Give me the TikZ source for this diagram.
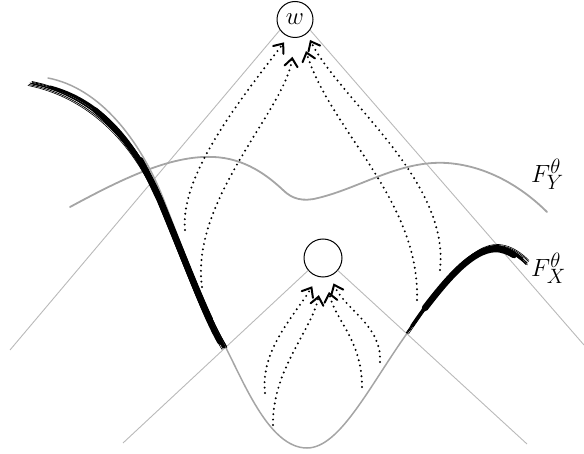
\documentclass[tikz,border=0pt]{standalone}
\usetikzlibrary{arrows.meta}
\definecolor{conegray}{RGB}{185,185,185}
\definecolor{curvegray}{RGB}{165,165,165}
\begin{document}
\begin{tikzpicture}[x=1pt,y=-1pt,
  cone/.style={conegray, line width=0.9pt},
  fcurve/.style={curvegray, line width=1.8pt, line cap=round},
  brush/.style={black, line cap=round},
  flow/.style={line width=2.2pt, dash pattern=on 0pt off 5.4pt, line cap=round,
    -{Straight Barb[length=8pt,width=13pt,line width=2pt,line cap=round]}},
  unit/.style={circle, draw, fill=white, line width=1pt, inner sep=0pt},
  lab/.style={anchor=base west, inner sep=0pt, font=\fontsize{28}{32}\selectfont}]
\useasboundingbox (0,0) rectangle (584,454);

% nodes
\node[unit, minimum size=36pt, font=\fontsize{25}{28}\selectfont] (w) at (295,19.5) {$w$};
\node[unit, minimum size=38pt] (h) at (323,258) {};

% cone lines
\coordinate (wl) at (10,350);
\coordinate (wr) at (584,345);
\coordinate (hl) at (123,443);
\coordinate (hr) at (527,444);
\draw[cone] (w.215) -- (wl);
\draw[cone] (w.325) -- (wr);
\draw[cone] (h.220) -- (hl);
\draw[cone] (h.320) -- (hr);

% F_Y curve
\draw[fcurve] (70,207) .. controls (120,180) and (170,155) .. (213,157)
  .. controls (245,158) and (268,176) .. (283,190)
  .. controls (292,199) and (303,202) .. (318,198)
  .. controls (360,188) and (400,160) .. (447,163)
  .. controls (490,166) and (525,190) .. (547,212);

% F_X curve (gray)
\draw[curvegray, line width=1.5pt, line cap=round] (48,78) .. controls (100,88) and (140,140) .. (163,198)
  .. controls (188,262) and (208,318) .. (226,348)
  .. controls (245,385) and (270,448) .. (307,448)
  .. controls (340,448) and (370,385) .. (408,332)
  .. controls (440,285) and (470,245) .. (497,247)
  .. controls (510,248) and (520,256) .. (527,263);

% brush strokes, left
\foreach \dx/\dy/\lw in {0/0/0.8, 2/-1.5/0.7, -1/1.5/0.8, 3/1/0.6, 1/0.5/1.2, -2/2.5/0.6, 2.5/-0.5/0.9} {
  \draw[brush, line width=\lw pt, shift={(\dx,\dy)}] (30,83) .. controls (90,95) and (135,140) .. (160,200)
    .. controls (185,260) and (205,315) .. (224,347);
}
\draw[brush, line width=3pt] (50,87) .. controls (100,100) and (137,142) .. (160,200)
    .. controls (185,260) and (205,315) .. (224,347);
\draw[brush, line width=5.5pt] (95,110) .. controls (122,132) and (145,165) .. (160,200)
    .. controls (185,260) and (203,312) .. (220,342);
\draw[brush, line width=6.5pt] (140,160) .. controls (150,178) and (155,190) .. (160,200)
    .. controls (180,248) and (196,290) .. (210,320);

% brush strokes, right
\foreach \dx/\dy/\lw in {0/0/0.8, 1.5/-1.5/0.7, -1/1.5/0.8, 0.5/2/0.6, 2/-2.5/0.6, -1.5/0.5/0.9} {
  \draw[brush, line width=\lw pt, shift={(\dx,\dy)}] (408,332) .. controls (440,285) and (470,245) .. (497,247)
    .. controls (510,248) and (520,256) .. (527,263);
}
\draw[brush, line width=3.5pt] (412,326) .. controls (440,285) and (470,247) .. (497,247)
    .. controls (508,248) and (516,254) .. (522,259);
\draw[brush, line width=6.5pt] (425,308) .. controls (448,278) and (472,250) .. (495,249)
    .. controls (503,249) and (509,252) .. (514,255);

% flows into w
\coordinate (a1) at (185,230);
\coordinate (a2) at (202,287);
\coordinate (a3) at (417,300);
\coordinate (a4) at (440,270);
\draw[flow, shorten >=7pt] (a1) .. controls (180,175) and (240,100) .. (w.249);
\draw[flow, shorten >=19pt] (a2) .. controls (190,200) and (285,110) .. (w.270);
\draw[flow, shorten >=15pt] (a3) .. controls (420,200) and (330,130) .. (w.291);
\draw[flow, shorten >=7pt] (a4) .. controls (450,180) and (340,100) .. (w.310);

% flows into h
\coordinate (b1) at (265,393);
\coordinate (b2) at (273,425);
\coordinate (b3) at (362,387);
\coordinate (b4) at (380,362);
\draw[flow, shorten >=11pt] (b1) .. controls (260,350) and (295,315) .. (h.255);
\draw[flow, shorten >=18pt] (b2) .. controls (272,370) and (312,330) .. (h.268);
\draw[flow, shorten >=15pt] (b3) .. controls (362,340) and (335,320) .. (h.278);
\draw[flow, shorten >=8pt] (b4) .. controls (382,325) and (345,310) .. (h.292);

% labels
\node[lab] (fy) at (531,183) {$F_Y^\theta$};
\node[lab] (fx) at (531,277) {$F_X^\theta$};
\end{tikzpicture}
\end{document}
